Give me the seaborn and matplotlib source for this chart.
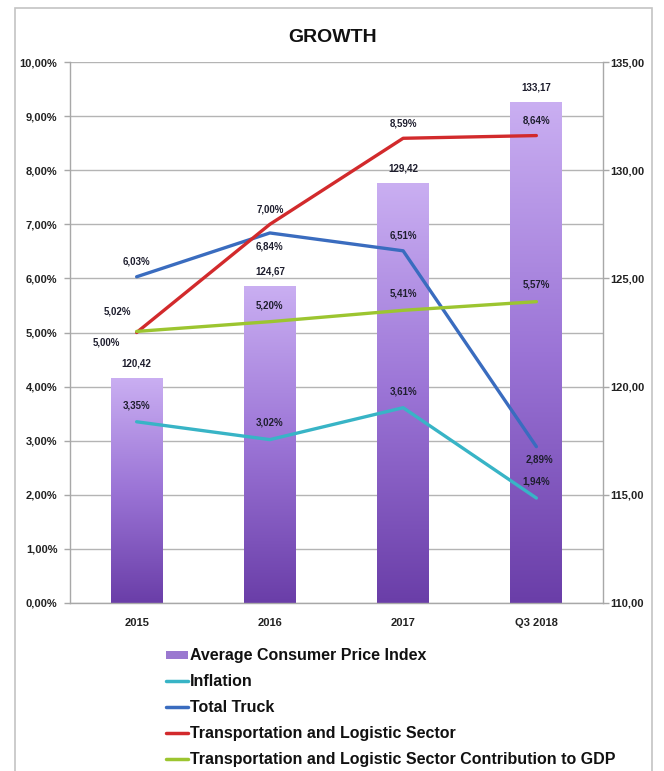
import numpy as np
import pandas as pd
import matplotlib
matplotlib.use("Agg")
import matplotlib.pyplot as plt
import seaborn as sns
from matplotlib import font_manager
from matplotlib.patches import Rectangle, Patch
from matplotlib.lines import Line2D
from matplotlib.colors import LinearSegmentedColormap

# ---------------- data ----------------
categories = ["2015", "2016", "2017", "Q3 2018"]
cpi = [120.42, 124.67, 129.42, 133.17]
inflation = [3.35, 3.02, 3.61, 1.94]
total_truck = [6.03, 6.84, 6.51, 2.89]
transport = [5.00, 7.00, 8.59, 8.64]
gdp_contrib = [5.02, 5.20, 5.41, 5.57]
left_ticks = [0, 1, 2, 3, 4, 5, 6, 7, 8, 9, 10]
right_ticks = [110, 115, 120, 125, 130, 135]
series_names = ["Inflation", "Total Truck", "Transportation and Logistic Sector",
                "Transportation and Logistic Sector Contribution to GDP"]
bar_name = "Average Consumer Price Index"

colors = {
    "Inflation": "#38b4c6",
    "Total Truck": "#3a6cbf",
    "Transportation and Logistic Sector": "#d22a2c",
    "Transportation and Logistic Sector Contribution to GDP": "#9cc530",
}

sns.set_theme(style="white")
avail = {f.name for f in font_manager.fontManager.ttflist}
narrow = "Liberation Sans Narrow" if "Liberation Sans Narrow" in avail else "Liberation Sans"
plt.rcParams["font.family"] = ["Liberation Sans", "DejaVu Sans"]

W, H = 664, 771
fig = plt.figure(figsize=(W / 100, H / 100), dpi=100)
fig.patch.set_facecolor("white")

# outer frame
fig.patches.append(Rectangle((15 / W, -0.01), (652 - 15) / W, 1 - 8 / H + 0.01,
                             transform=fig.transFigure, fill=False,
                             edgecolor="#c4c4c4", linewidth=1.2, zorder=0))

left, right, top, bottom = 70, 603, 62, 603
ax = fig.add_axes([left / W, 1 - bottom / H, (right - left) / W, (bottom - top) / H])
ax2 = ax.twinx()
# lines (ax) above bars (ax2)
ax.set_zorder(ax2.get_zorder() + 1)
ax.patch.set_visible(False)

tick_kw = dict(fontweight="bold", family=narrow, color="#222222")

# ---------------- bars on right axis ----------------
bar_df = pd.DataFrame({"cat": categories, "cpi": cpi})
sns.barplot(data=bar_df, x="cat", y="cpi", ax=ax2, width=0.39,
            color="#9a78d0", order=categories)
cmap = LinearSegmentedColormap.from_list("purp", ["#6a3ea8", "#9b74d6", "#caaff2"])
grad = np.linspace(0, 1, 256).reshape(-1, 1)
for p in list(ax2.patches):
    x0, w, h = p.get_x(), p.get_width(), p.get_height()
    im = ax2.imshow(grad, extent=[x0, x0 + w, 110, h], origin="lower",
                    cmap=cmap, aspect="auto", zorder=2)
    im.set_clip_path(p)
    p.set_facecolor("none")
    p.set_edgecolor("none")
ax2.set_xlim(-0.5, 3.5)
ax2.set_ylim(110, 135)
ax2.set_yticks(right_ticks)
ax2.set_yticklabels([f"{v:.2f}".replace(".", ",") for v in right_ticks], fontsize=8, **tick_kw)
ax2.set_yticks(np.arange(112.5, 135, 5), minor=True)
ax2.tick_params(axis="y", which="major", length=4, color="#a8a8a8", width=1, pad=1.5, right=True)
ax2.tick_params(axis="y", which="minor", length=0)
ax2.grid(True, axis="y", which="both", color="#b4b4b4", linewidth=1)
ax2.grid(False, axis="x")
ax2.set_ylabel("")
ax2.set_xlabel("")
ax2.spines["top"].set_visible(False)
for s in ["left", "right", "bottom"]:
    ax2.spines[s].set_color("#a8a8a8")
    ax2.spines[s].set_linewidth(1)
ax2.set_axisbelow(True)

# ---------------- lines on left axis ----------------
long_df = pd.DataFrame({
    "cat": categories * 4,
    "value": inflation + total_truck + transport + gdp_contrib,
    "series": sum([[n] * 4 for n in series_names], []),
})
long_df["pos"] = long_df["cat"].map({c: i for i, c in enumerate(categories)})
sns.lineplot(data=long_df, x="pos", y="value", hue="series", hue_order=series_names,
             palette=colors, ax=ax, linewidth=2.4, legend=False, sort=False)
ax.set_xlim(-0.5, 3.5)
ax.set_ylim(0, 10)
ax.set_yticks(left_ticks)
ax.set_yticklabels([f"{v:.2f}%".replace(".", ",") for v in left_ticks], fontsize=8, **tick_kw)
ax.set_xticks(range(len(categories)))
ax.set_xticklabels(categories, fontsize=8, **tick_kw)
ax.tick_params(axis="y", length=4, color="#a8a8a8", width=1, pad=5, left=True)
ax.tick_params(axis="x", length=0, pad=11)
ax2.tick_params(axis="x", length=0, labelbottom=False)
ax.set_xlabel("")
ax.set_ylabel("")
for s in ax.spines.values():
    s.set_visible(False)
ax2.set_xticks([0.5, 1.5, 2.5], minor=True)
ax2.tick_params(axis="x", which="minor", length=3, color="#a8a8a8", bottom=True)

# ---------------- data labels ----------------
lab_kw = dict(textcoords="offset points", ha="center", va="center",
              fontsize=7, fontweight="bold", family=narrow, color="#1e1e2e")

def pct(v):
    return f"{v:.2f}%".replace(".", ",")

for i, v in enumerate(cpi):
    ax2.annotate(f"{v:.2f}".replace(".", ","), (i, v), xytext=(0, 10), **lab_kw)

for i, v in enumerate(inflation):
    ax.annotate(pct(v), (i, v), xytext=(0, 12), **lab_kw)

truck_off = [(0, 11), (0, -10), (0, 11), (2, -9)]
for i, v in enumerate(total_truck):
    ax.annotate(pct(v), (i, v), xytext=truck_off[i], **lab_kw)

trans_off = [(-22, -7), (0, 11), (0, 11), (0, 11)]
for i, v in enumerate(transport):
    ax.annotate(pct(v), (i, v), xytext=trans_off[i], **lab_kw)

gdp_off = [(-14, 14), (0, 12), (0, 12), (0, 12)]
for i, v in enumerate(gdp_contrib):
    ax.annotate(pct(v), (i, v), xytext=gdp_off[i], **lab_kw)

# ---------------- title ----------------
fig.text(333 / W, 1 - 38 / H, "GROWTH", ha="center", va="center",
         fontsize=14, fontweight="bold", color="#111111")

# ---------------- legend ----------------
handles = [Patch(facecolor="#9a78d0", edgecolor="none", label=bar_name)]
handles += [Line2D([0], [0], color=colors[n], linewidth=2.5, label=n) for n in series_names]
leg = fig.legend(handles=handles, loc="upper left", bbox_to_anchor=(152 / W, 1 - 634 / H),
                 frameon=False, handlelength=1.35, handleheight=0.4, handletextpad=0.15,
                 labelspacing=0.68, prop={"family": "Liberation Sans", "weight": "bold", "size": 11.5})
for t in leg.get_texts():
    t.set_color("#111111")

fig.savefig("out.png", dpi=100, facecolor="white")
